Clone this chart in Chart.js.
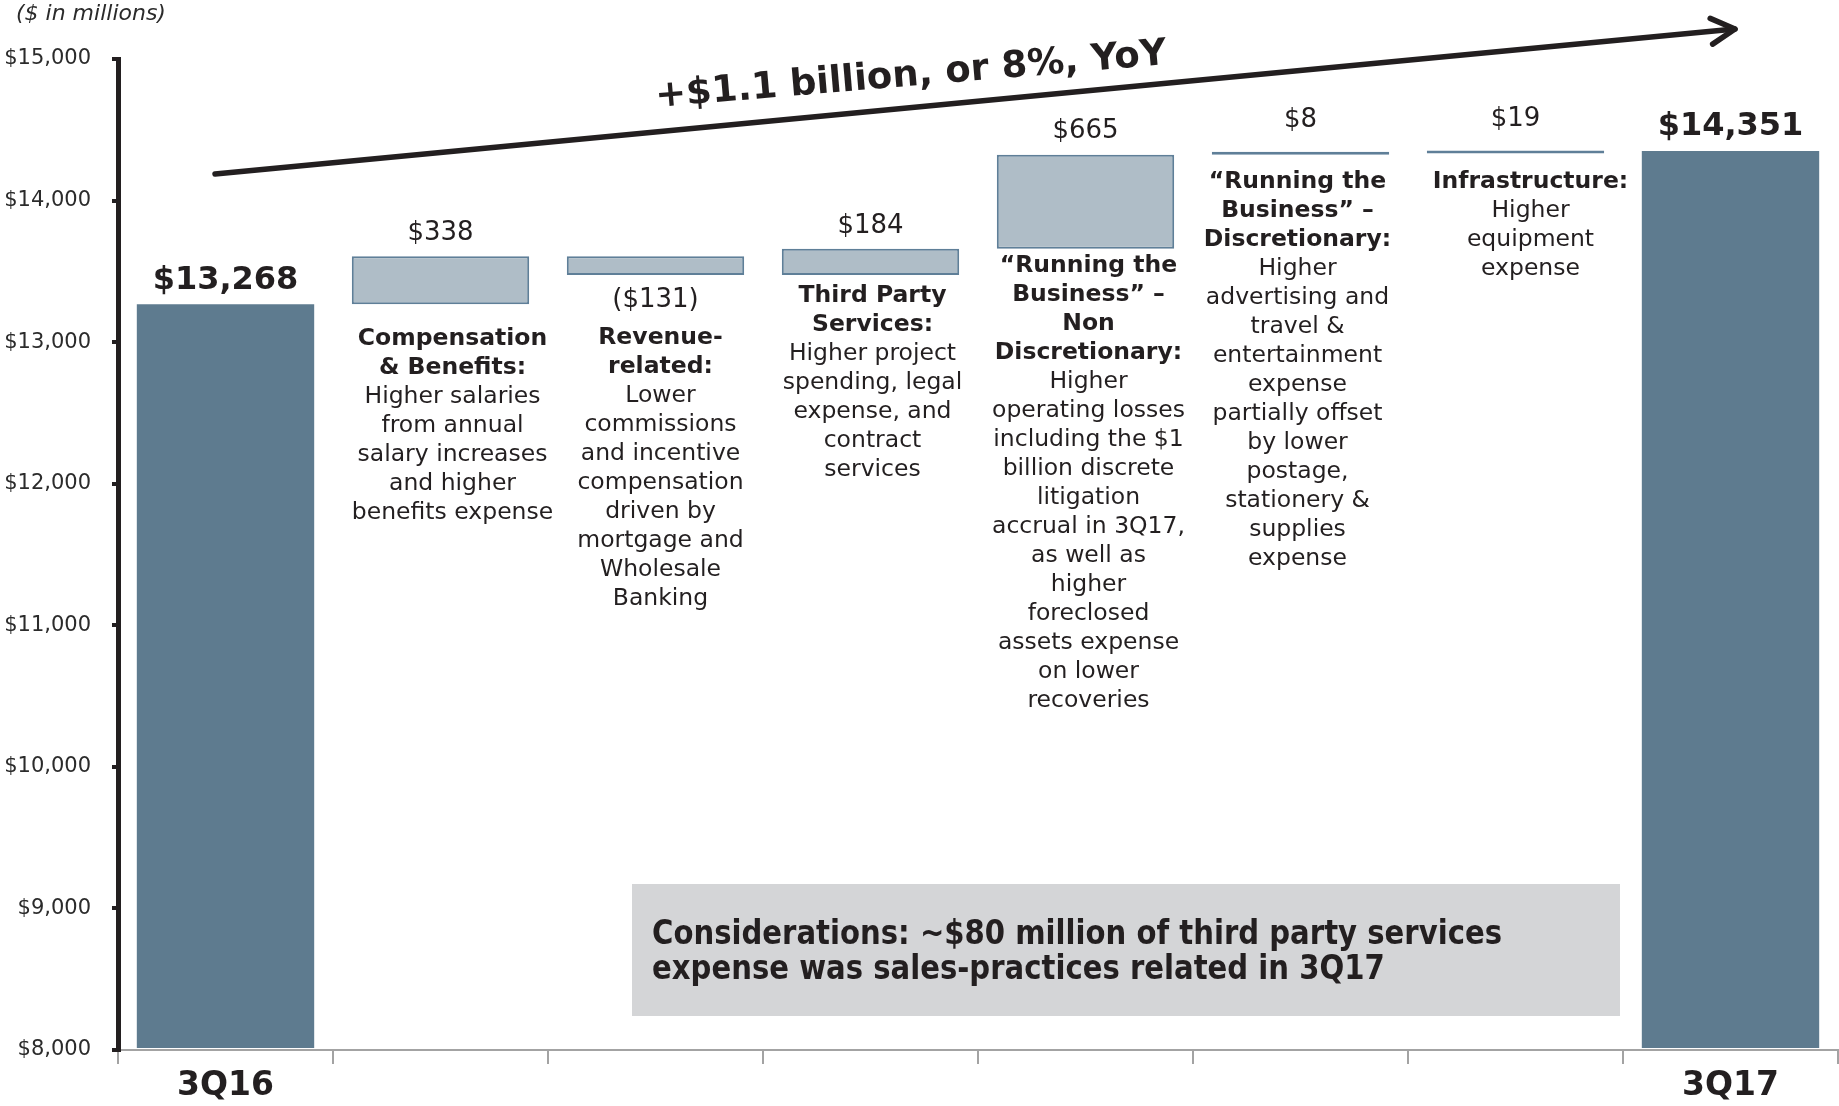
<!DOCTYPE html>
<html>
<head>
<meta charset="utf-8">
<title>Noninterest expense 3Q16 to 3Q17</title>
<script src="https://cdn.jsdelivr.net/npm/chart.js@4.4.1/dist/chart.umd.min.js"></script>
<style>
  html, body { margin: 0; padding: 0; background: #ffffff; }
  #wrap { width: 1839px; height: 1106px; }
</style>
</head>
<body>
<div id="wrap"><canvas id="c" width="1839" height="1106"></canvas></div>
<script>
// ---- data ($ in millions) ----
const categories = [
  '3Q16',
  'Compensation & Benefits',
  'Revenue-related',
  'Third Party Services',
  'Running the Business - Non Discretionary',
  'Running the Business - Discretionary',
  'Infrastructure',
  '3Q17'
];
const tickLabels = ['3Q16', '', '', '', '', '', '', '3Q17'];
const startTotal = 13268;
const endTotal = 14351;
const changes = [338, -131, 184, 665, 8, 19];
const yMin = 8000;
const yMax = 15000;
const yStep = 1000;

const noteHeads = [
  [],
  ['Compensation', '& Benefits:'],
  ['Revenue-', 'related:'],
  ['Third Party', 'Services:'],
  ['\u201CRunning the', 'Business\u201D \u2013', 'Non', 'Discretionary:'],
  ['\u201CRunning the', 'Business\u201D \u2013', 'Discretionary:'],
  ['Infrastructure:'],
  []
];
const noteBodies = [
  [],
  ['Higher salaries', 'from annual', 'salary increases', 'and higher', 'benefits expense'],
  ['Lower', 'commissions', 'and incentive', 'compensation', 'driven by', 'mortgage and', 'Wholesale', 'Banking'],
  ['Higher project', 'spending, legal', 'expense, and', 'contract', 'services'],
  ['Higher', 'operating losses', 'including the $1', 'billion discrete', 'litigation', 'accrual in 3Q17,',
   'as well as', 'higher', 'foreclosed', 'assets expense', 'on lower', 'recoveries'],
  ['Higher', 'advertising and', 'travel &', 'entertainment', 'expense', 'partially offset', 'by lower',
   'postage,', 'stationery &', 'supplies', 'expense'],
  ['Higher', 'equipment', 'expense'],
  []
];
const headline = '+$1.1 billion, or 8%, YoY';
const unitNote = '($ in millions)';
const considerations = ['Considerations: ~$80 million of third party services',
                        'expense was sales-practices related in 3Q17'];

// ---- layout / style ----
const INK = '#231F20';
const TOTAL_FILL = '#5E7B8F';
const STEP_FILL = '#AFBDC7';
const STEP_EDGE = '#5F7F98';
const FONT = '"DejaVu Sans", Verdana, sans-serif';
const noteCenterY = [0, 339, 338, 296, 266, 182, 182, 0];   // first-line centre of each note block
const noteShiftX = [0, 12, 5, 2, 3, -3, 15, 0];
const NOTE_LINE = 29;
const BOX = { x: 632, y: 884, w: 988, h: 132, textX: 652, textY: 935, lineGap: 35, textW: 850 };

// ---- waterfall ranges built from the values above ----
const barData = [startTotal];
let running = startTotal;
changes.forEach(d => { barData.push([running, running + d]); running += d; });
barData.push(endTotal);
const isTotal = barData.map(v => !Array.isArray(v));

const money = v => '$' + Math.abs(v).toLocaleString('en-US');

const annotate = {
  id: 'annotate',
  afterDatasetsDraw(chart) {
    const ctx = chart.ctx;
    const meta = chart.getDatasetMeta(0);
    ctx.save();
    ctx.fillStyle = INK;
    ctx.textAlign = 'center';
    ctx.textBaseline = 'middle';

    meta.data.forEach((bar, i) => {
      const top = Math.min(bar.y, bar.base);
      const bottom = Math.max(bar.y, bar.base);
      if (isTotal[i]) {
        ctx.font = 'bold 32px ' + FONT;
        ctx.fillText(money(barData[i]), bar.x, top - 24);
      } else {
        const d = changes[i - 1];
        ctx.font = '26px ' + FONT;
        if (d < 0) ctx.fillText('(' + money(d) + ')', bar.x, bottom + 25);
        else ctx.fillText(money(d), bar.x, top - (d < 30 ? 31 : 23));
      }
      // explanatory note under each step
      let y = noteCenterY[i];
      const cx = bar.x + noteShiftX[i];
      ctx.font = 'bold 23.5px ' + FONT;
      noteHeads[i].forEach(line => { ctx.fillText(line, cx, y); y += NOTE_LINE; });
      ctx.font = '23.5px ' + FONT;
      noteBodies[i].forEach(line => { ctx.fillText(line, cx, y); y += NOTE_LINE; });
    });

    // unit note
    ctx.textAlign = 'left';
    ctx.font = 'italic 22px ' + FONT;
    ctx.fillStyle = '#2B2B2B';
    ctx.fillText(unitNote, 16, 14);

    // trend arrow
    const x0 = 215, y0 = 174, x1 = 1735, y1 = 29;
    ctx.strokeStyle = INK;
    ctx.lineWidth = 5.5;
    ctx.lineCap = 'round';
    ctx.lineJoin = 'round';
    ctx.beginPath(); ctx.moveTo(x0, y0); ctx.lineTo(x1, y1); ctx.stroke();
    const ang = Math.atan2(y1 - y0, x1 - x0);
    const arm = 27, spread = 0.5;
    ctx.beginPath();
    ctx.moveTo(x1 - arm * Math.cos(ang - spread), y1 - arm * Math.sin(ang - spread));
    ctx.lineTo(x1, y1);
    ctx.lineTo(x1 - arm * Math.cos(ang + spread), y1 - arm * Math.sin(ang + spread));
    ctx.stroke();

    // headline along the arrow
    ctx.save();
    ctx.translate(911, 76);
    ctx.rotate(-4.8 * Math.PI / 180);
    ctx.textAlign = 'center';
    ctx.font = 'bold 37px ' + FONT;
    ctx.fillStyle = INK;
    ctx.fillText(headline, 0, 0);
    ctx.restore();

    // considerations box (condensed bold text)
    ctx.fillStyle = '#D4D5D7';
    ctx.fillRect(BOX.x, BOX.y, BOX.w, BOX.h);
    ctx.fillStyle = INK;
    ctx.font = 'bold 33px ' + FONT;
    ctx.textAlign = 'left';
    const squeeze = BOX.textW / ctx.measureText(considerations[0]).width;
    considerations.forEach((line, k) => {
      ctx.save();
      ctx.translate(BOX.textX, BOX.textY + k * BOX.lineGap);
      ctx.scale(squeeze, 1);
      ctx.fillText(line, 0, 0);
      ctx.restore();
    });
    ctx.restore();
  }
};

new Chart(document.getElementById('c'), {
  type: 'bar',
  data: {
    labels: categories,
    datasets: [{
      data: barData,
      base: yMin,
      backgroundColor: isTotal.map(t => t ? TOTAL_FILL : STEP_FILL),
      borderColor: isTotal.map(t => t ? TOTAL_FILL : STEP_EDGE),
      borderWidth: isTotal.map(t => t ? 0 : 2),
      borderSkipped: false,
      minBarLength: 3,
      barPercentage: 0.825,
      categoryPercentage: 1
    }]
  },
  options: {
    responsive: false,
    animation: false,
    devicePixelRatio: 1,
    layout: { padding: { top: 59, right: 1, left: 0, bottom: 0 } },
    plugins: { legend: { display: false }, tooltip: { enabled: false } },
    scales: {
      x: {
        offset: true,
        grid: { offset: true, drawOnChartArea: false, drawTicks: true, tickLength: 14, color: '#A3A3A3', lineWidth: 2 },
        border: { display: true, color: '#A3A3A3', width: 2 },
        ticks: {
          autoSkip: false, maxRotation: 0, padding: 3,
          callback: (v, i) => tickLabels[i],
          font: { family: FONT, weight: 'bold', size: 33 },
          color: INK
        },
        afterFit: s => { s.height = 56; }
      },
      y: {
        min: yMin, max: yMax,
        ticks: {
          stepSize: yStep, padding: 21,
          callback: v => money(v),
          font: { family: FONT, size: 21 },
          color: '#2B2B2B'
        },
        grid: { drawOnChartArea: false, drawTicks: true, tickLength: 6, color: INK, lineWidth: 4 },
        border: { display: true, color: INK, width: 5 },
        afterFit: s => { s.width = 118; }
      }
    }
  },
  plugins: [annotate]
});
</script>
</body>
</html>
